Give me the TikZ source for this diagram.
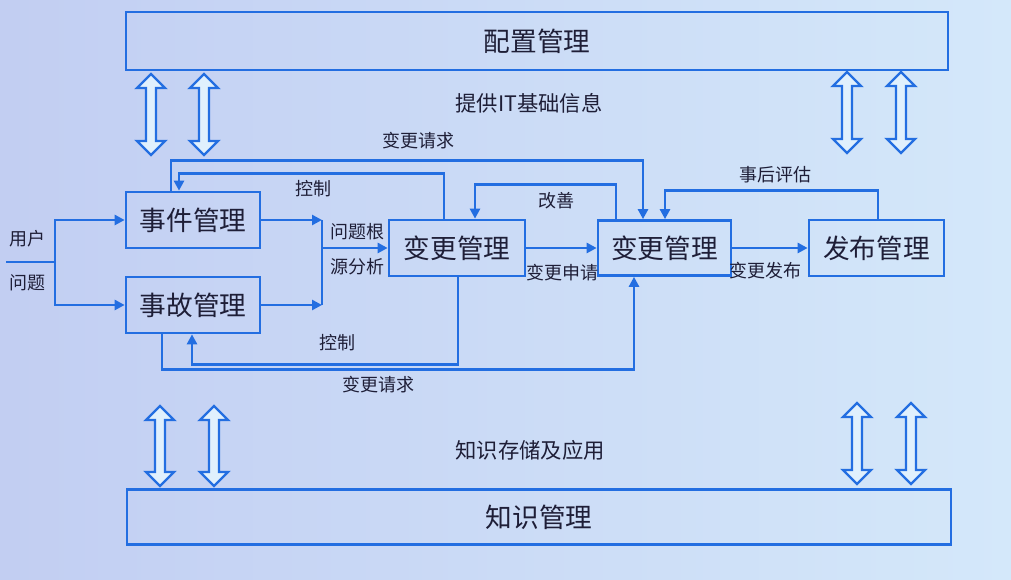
\documentclass[tikz,border=0pt]{standalone}
\usepackage{fontspec}
\setmainfont{Noto Sans CJK SC}
\usetikzlibrary{arrows.meta,calc}
\definecolor{lineblue}{RGB}{35,110,225}
\definecolor{txt}{RGB}{30,30,55}
\definecolor{bgL}{RGB}{194,206,242}
\definecolor{bgM}{RGB}{218,236,252}
\definecolor{bgR}{RGB}{212,232,250}
\definecolor{hollow}{RGB}{224,240,253}
\tikzset{
  box/.style={draw=lineblue, line width=2pt, text=txt, font=\fontsize{20}{22}\selectfont, inner sep=0pt},
  conn/.style={draw=lineblue, line width=2.1pt},
  arr/.style={conn, -{Triangle[length=7.5pt,width=7.5pt]}},
  lbl/.style={text=txt, font=\fontsize{13.5}{15}\selectfont, inner sep=0pt},
  mid/.style={text=txt, font=\fontsize{16}{18}\selectfont, inner sep=0pt},
  dbl/.style={draw=lineblue, line width=1.8pt, fill=hollow, line join=miter}
}
\newcommand\dblarr[4]{% name, x, ytop, ybot
  \coordinate (#1) at (#2,{(#3+#4)/2});
  \path[dbl] (#2,#3) -- ++(14,14) -- ++(-9,0) -- (#2+5,#4-14) -- ++(9,0) -- (#2,#4) -- ++(-14,-14) -- ++(9,0) -- (#2-5,#3+14) -- ++(-9,0) -- cycle;
}
\begin{document}
\begin{tikzpicture}[x=0.75pt,y=-0.75pt]
\shade[left color=bgL, middle color=bgM, right color=bgR] (0,0) rectangle (1011,580);
\useasboundingbox (0,0) rectangle (1011,580);

% big boxes
\node[box, minimum width=822*0.75pt, minimum height=58*0.75pt] (cfg) at (537,41) {配置管理};
\node[box, minimum width=824*0.75pt, minimum height=55*0.75pt] (kn) at (539,517) {知识管理};

% process boxes
\node[box, minimum width=134*0.75pt, minimum height=56*0.75pt] (ev) at (193,220) {事件管理};
\node[box, minimum width=134*0.75pt, minimum height=56*0.75pt] (ac) at (193,305) {事故管理};
\node[box, minimum width=136*0.75pt, minimum height=56*0.75pt] (cm1) at (457,248) {变更管理};
\node[box, minimum width=133*0.75pt, minimum height=55*0.75pt] (cm2) at (664.5,248) {变更管理};
\node[box, minimum width=135*0.75pt, minimum height=56*0.75pt] (pub) at (876.5,248) {发布管理};

% double arrows
\dblarr{da1}{151}{74}{155}
\dblarr{da2}{204}{74}{155}
\dblarr{da3}{847}{72}{153}
\dblarr{da4}{901}{72}{153}
\dblarr{da5}{160}{406}{486}
\dblarr{da6}{214}{406}{486}
\dblarr{da7}{857}{403}{484}
\dblarr{da8}{911}{403}{484}

% middle texts
\node[mid] (t1) at (529,103) {提供IT基础信息};
\node[mid] (t2) at (530,450) {知识存储及应用};

% user input
\coordinate (in) at (6,262);
\coordinate (sp) at (55,262);
\draw[conn] (in) -- (sp);
\draw[arr] (sp) |- (ev.west);
\draw[arr] (sp) |- (ac.west);
\node[lbl] (u1) at (27,239) {用户};
\node[lbl] (u2) at (27,283) {问题};

% junction to change mgmt
\coordinate (j) at (322,248);
\draw[arr] (ev.east) -- (ev.east -| j);
\draw[arr] (ac.east) -- (ac.east -| j);
\draw[conn] (ev.east -| j) -- (ac.east -| j);
\draw[arr] (j) -- (cm1.west);
\node[lbl] (l1) at (357,232) {问题根};
\node[lbl] (l2) at (357,267) {源分析};

% main flow
\draw[arr] (cm1.east) -- (cm2.west);
\draw[arr] (cm2.east) -- (cm2.east -| pub.west);
\node[lbl] (l3) at (562,273) {变更申请};
\node[lbl] (l4) at (765,271) {变更发布};

% feedback loops top
\draw[arr] ($(pub.north)+(1.5,0)$) -- ++(0,-28) -| ($(cm2.north)+(0.5,0)$);
\node[lbl] (l5) at (775,175) {事后评估};
\draw[arr] ($(cm2.north)+(-48.5,0)$) -- ++(0,-35) -| ($(cm1.north)+(18,0)$);
\node[lbl] (l6) at (556,201) {改善};
\draw[arr] ($(ev.north)+(-22,0)$) -- ++(0,-30) -| ($(cm2.north)+(-21.5,0)$);
\node[lbl] (l7) at (418,141) {变更请求};
\draw[arr] ($(cm1.north)+(-13,0)$) -- ++(0,-45) -| ($(ev.north)+(-14,0)$);
\node[lbl] (l8) at (313,189) {控制};

% feedback loops bottom
\draw[arr] ($(cm1.south)+(1,0)$) -- ++(0,87) -| ($(ac.south)+(-1,0)$);
\node[lbl] (l9) at (337,343) {控制};
\draw[arr] ($(ac.south)+(-31,0)$) -- ++(0,35) -| ($(cm2.south)+(-30.5,0)$);
\node[lbl] (l10) at (378,385) {变更请求};
\end{tikzpicture}
\end{document}
